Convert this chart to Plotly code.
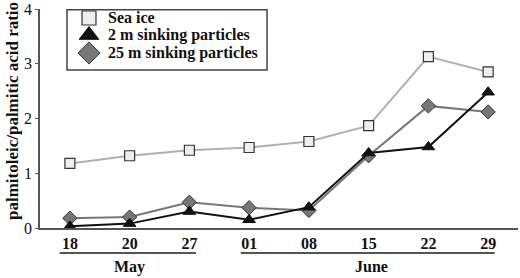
import plotly.graph_objects as go

dates = ["18", "20", "27", "01", "08", "15", "22", "29"]
sea_ice = [1.18, 1.32, 1.42, 1.47, 1.58, 1.87, 3.13, 2.85]
sink_2m = [0.03, 0.08, 0.30, 0.15, 0.38, 1.37, 1.48, 2.48]
sink_25m = [0.18, 0.20, 0.47, 0.37, 0.32, 1.32, 2.23, 2.12]
y_ticks = [0, 1, 2, 3, 4]
months = ["May", "June"]
legend_names = ["Sea ice", "2 m sinking particles", "25 m sinking particles"]

FONT = "Liberation Serif"
fig = go.Figure()

mk_ice = dict(symbol="square", color="#eeeeee", line=dict(color="#333", width=1.2))
mk_2m = dict(symbol="triangle-up", color="#111111", line=dict(color="#111", width=1))
mk_25m = dict(symbol="diamond", color="#777777", line=dict(color="#333", width=1))

series = [
    (sea_ice, "#b0b0b0", dict(mk_ice, size=10)),
    (sink_25m, "#777777", dict(mk_25m, size=11)),
    (sink_2m, "#111111", dict(mk_2m, size=11)),
]
for vals, lc, mk in series:
    fig.add_trace(go.Scatter(x=dates, y=vals, mode="lines+markers",
                             line=dict(color=lc, width=2), marker=mk, showlegend=False,
                             cliponaxis=False))

# manual legend (box, symbols, labels)
fig.add_shape(type="rect", xref="paper", yref="paper", x0=0.0565, x1=0.475, y0=0.7215, y1=0.997,
              line=dict(color="#444", width=1.5), fillcolor="white", layer="below")
leg_y = [0.959, 0.881, 0.799]
leg_mk = [dict(mk_ice, size=14), dict(mk_2m, size=17), dict(mk_25m, size=17)]
for yy, mk, nm in zip(leg_y, leg_mk, legend_names):
    fig.add_trace(go.Scatter(x=[0.1025], y=[yy], xaxis="x2", yaxis="y2", mode="markers",
                             marker=mk, showlegend=False, hoverinfo="skip", cliponaxis=False))
    fig.add_annotation(x=0.138, y=yy, xref="paper", yref="paper", text="<b>%s</b>" % nm,
                       showarrow=False, xanchor="left", yanchor="middle",
                       font=dict(family=FONT, size=16, color="#111"))

# month underlines and labels
fig.add_shape(type="line", xref="x", yref="paper", x0=-0.17, x1=2.11, y0=-0.114, y1=-0.114,
              line=dict(color="#555", width=2))
fig.add_shape(type="line", xref="x", yref="paper", x0=2.86, x1=7.11, y0=-0.114, y1=-0.114,
              line=dict(color="#555", width=2))
fig.add_annotation(x=1, y=-0.178, xref="x", yref="paper", text="<b>%s</b>" % months[0], showarrow=False,
                   font=dict(family=FONT, size=16, color="#111"), yanchor="middle")
fig.add_annotation(x=5.05, y=-0.178, xref="x", yref="paper", text="<b>%s</b>" % months[1], showarrow=False,
                   font=dict(family=FONT, size=16, color="#111"), yanchor="middle")

# y-axis title
fig.add_annotation(x=-0.0586, y=0.534, xref="paper", yref="paper",
                   text="<b>palmitoleic/palmitic acid ratio</b>", textangle=-90, showarrow=False,
                   font=dict(family=FONT, size=17, color="#111"), xanchor="center", yanchor="middle")

fig.update_layout(
    width=520, height=278,
    margin=dict(l=40, r=2, t=9, b=50),
    plot_bgcolor="white", paper_bgcolor="white",
    font=dict(family=FONT, color="#111"),
    showlegend=False,
    xaxis=dict(type="category", range=[-0.5, 7.5], showgrid=False, showline=True,
               linecolor="#555", linewidth=2, ticks="", zeroline=False, automargin=False,
               tickfont=dict(family=FONT, size=16, color="#111"),
               tickprefix="<b>", ticksuffix="</b>"),
    yaxis=dict(range=[0, 4], tickvals=y_ticks, showgrid=False, showline=True,
               linecolor="#555", linewidth=1.5, ticks="outside", ticklen=3, tickcolor="#555",
               zeroline=False, automargin=False, tickfont=dict(family=FONT, size=16, color="#111"),
               tickprefix="<b>", ticksuffix="</b>"),
    xaxis2=dict(overlaying="x", range=[0, 1], visible=False, fixedrange=True),
    yaxis2=dict(overlaying="y", range=[0, 1], visible=False, fixedrange=True),
)

fig.write_html("out.html", config={"displayModeBar": False},
               post_script="document.body.style.margin='0';document.body.style.padding='0';")
